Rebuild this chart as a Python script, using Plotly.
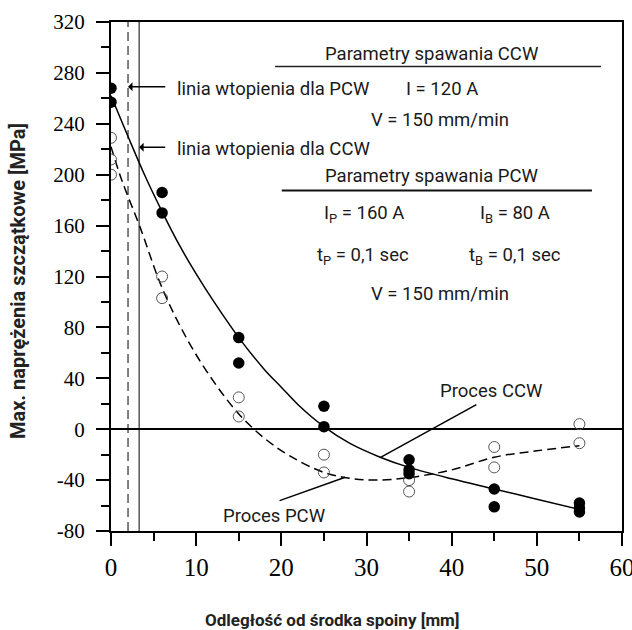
import plotly.graph_objects as go

# ---- data ----
ccw_x = [0, 0, 6, 6, 15, 15, 25, 25, 35, 35, 35, 45, 45, 55, 55, 55]
ccw_y = [268, 257, 186, 170, 72, 52, 18, 2, -24, -32, -35, -47, -61, -58, -62, -65]

pcw_x = [0, 0, 0, 6, 6, 15, 15, 25, 25, 35, 35, 45, 45, 55, 55]
pcw_y = [229, 212, 200, 120, 103, 25, 10, -20, -34, -40, -49, -14, -30, 4, -11]

# trend curves
ccw_fit_x = [0, 2, 4, 6, 8, 10, 12, 15, 18, 20, 22, 25, 28, 31.6, 35, 40, 45, 50, 55]
ccw_fit_y = [262, 230, 199, 171, 145, 122, 101, 72, 47, 33, 19, 2, -11, -22, -30, -39, -47, -55, -63]

pcw_fit_x = [0, 1.25, 3.4, 6, 9, 12, 15, 18, 21, 25, 28, 31, 35, 40, 45, 50, 55]
pcw_fit_y = [222, 196, 159, 111, 70, 38, 12, -7, -21, -34, -38.5, -40, -38, -32, -22, -17, -13]

fusion_pcw_x = 2.0
fusion_ccw_x = 3.3

y_ticks = [-80, -40, 0, 40, 80, 120, 160, 200, 240, 280, 320]
x_ticks = [0, 10, 20, 30, 40, 50, 60]

TXT = "Roboto, 'Noto Sans', sans-serif"
TXT_COL = "#1a1a1a"
SERIF = "'Liberation Serif', 'Times New Roman', serif"

fig = go.Figure()

fig.add_trace(go.Scatter(x=ccw_fit_x, y=ccw_fit_y, mode="lines",
                         line=dict(color="black", width=1.5, shape="spline", smoothing=1.0),
                         showlegend=False, hoverinfo="skip"))
fig.add_trace(go.Scatter(x=pcw_fit_x, y=pcw_fit_y, mode="lines",
                         line=dict(color="black", width=1.5, dash="9px,5px", shape="spline", smoothing=1.0),
                         showlegend=False, hoverinfo="skip"))
fig.add_trace(go.Scatter(x=pcw_x, y=pcw_y, mode="markers",
                         marker=dict(symbol="circle-open", size=11, color="#555555", line=dict(width=1)),
                         showlegend=False))
fig.add_trace(go.Scatter(x=ccw_x, y=ccw_y, mode="markers",
                         marker=dict(symbol="circle", size=11.5, color="black"),
                         showlegend=False))

shapes = [
    dict(type="line", xref="x", yref="y", x0=fusion_pcw_x, x1=fusion_pcw_x, y0=-80, y1=320,
         line=dict(color="black", width=1, dash="9px,5px")),
    dict(type="line", xref="x", yref="y", x0=fusion_ccw_x, x1=fusion_ccw_x, y0=-80, y1=320,
         line=dict(color="black", width=1)),
    # underline of headings
    dict(type="line", xref="x", yref="y", x0=19.27, x1=57.53, y0=285, y1=285,
         line=dict(color="#222", width=1.5)),
    dict(type="line", xref="x", yref="y", x0=20.05, x1=56.47, y0=187.5, y1=187.5,
         line=dict(color="#111", width=2)),
    # pointer lines
    dict(type="line", xref="x", yref="y", x0=31.6, y0=-22.3, x1=42.9, y1=19.3,
         line=dict(color="black", width=1.5)),
    dict(type="line", xref="x", yref="y", x0=19.8, y0=-56.1, x1=27.5, y1=-37.8,
         line=dict(color="black", width=1.5)),
]

def txt(x, y, s, anchor="center", size=18.5):
    return dict(x=x, y=y, xref="x", yref="y", text=s, showarrow=False,
                xanchor=anchor, yanchor="middle",
                font=dict(family=TXT, size=size, color=TXT_COL))

annotations = [
    txt(37.68, 294.9, "Parametry spawania CCW"),
    txt(7.52, 267.4, "linia wtopienia dla PCW", anchor="left"),
    txt(38.85, 267.4, "I = 120 A"),
    txt(38.6, 243, "V = 150 mm/min"),
    txt(7.52, 220.3, "linia wtopienia dla CCW", anchor="left"),
    txt(37.68, 199.3, "Parametry spawania PCW"),
    txt(29.74, 169.2, "I<sub>P</sub> = 160 A"),
    txt(47.46, 169.2, "I<sub>B</sub> = 80 A"),
    txt(29.64, 136.4, "t<sub>P</sub> = 0,1 sec"),
    txt(47.46, 136.4, "t<sub>B</sub> = 0,1 sec"),
    txt(38.6, 106.3, "V = 150 mm/min"),
    txt(44.7, 30.3, "Proces CCW"),
    txt(19.15, -67.9, "Proces PCW"),
    # arrows
    dict(x=fusion_pcw_x, y=269.2, ax=6.54, ay=269.2, xref="x", yref="y", axref="x", ayref="y",
         text="", showarrow=True, arrowhead=1, arrowsize=1, arrowwidth=1.5, arrowcolor="black"),
    dict(x=fusion_ccw_x, y=221.5, ax=6.54, ay=221.5, xref="x", yref="y", axref="x", ayref="y",
         text="", showarrow=True, arrowhead=1, arrowsize=1, arrowwidth=1.5, arrowcolor="black"),
    # axis titles
    dict(x=-0.182, y=0.491, xref="paper", yref="paper", text="<b>Max. naprężenia szczątkowe [MPa]</b>",
         textangle=-90, showarrow=False, xanchor="center", yanchor="middle",
         font=dict(family=TXT, size=20, color="#222")),
    dict(x=0.4325, y=-0.174, xref="paper", yref="paper", text="<b>Odległość od środka spoiny [mm]</b>",
         showarrow=False, xanchor="center", yanchor="middle",
         font=dict(family=TXT, size=17, color="#222")),
]

fig.update_layout(
    width=632, height=630,
    margin=dict(l=111, r=10, t=22, b=99, autoexpand=False),
    paper_bgcolor="white", plot_bgcolor="white",
    shapes=shapes, annotations=annotations,
    showlegend=False,
)

fig.update_xaxes(
    range=[0, 60], tickvals=x_ticks, ticktext=[str(v) for v in x_ticks],
    ticks="outside", ticklen=13, tickwidth=1.5, tickcolor="black",
    minor=dict(dtick=5, tick0=0, ticks="outside", ticklen=8, tickwidth=1.5, tickcolor="black"),
    showline=True, linecolor="black", linewidth=1.5, mirror=True,
    showgrid=False, zeroline=False, automargin=False,
    tickfont=dict(family=SERIF, size=25, color="black"),
    ticklabeloverflow="allow",
)
fig.update_yaxes(
    range=[-80, 320], tickvals=y_ticks, ticktext=[str(v) for v in y_ticks],
    ticks="outside", ticklen=13, tickwidth=1.5, tickcolor="black",
    minor=dict(dtick=20, tick0=0, ticks="outside", ticklen=8, tickwidth=1.5, tickcolor="black"),
    showline=True, linecolor="black", linewidth=2, mirror=True,
    showgrid=False, zeroline=True, zerolinecolor="black", zerolinewidth=1.5, automargin=False,
    tickfont=dict(family=SERIF, size=21, color="black"),
    ticklabelstandoff=7,
)

fig.write_html("out.html", config={"displayModeBar": False},
               post_script="document.body.style.margin='0px';")
